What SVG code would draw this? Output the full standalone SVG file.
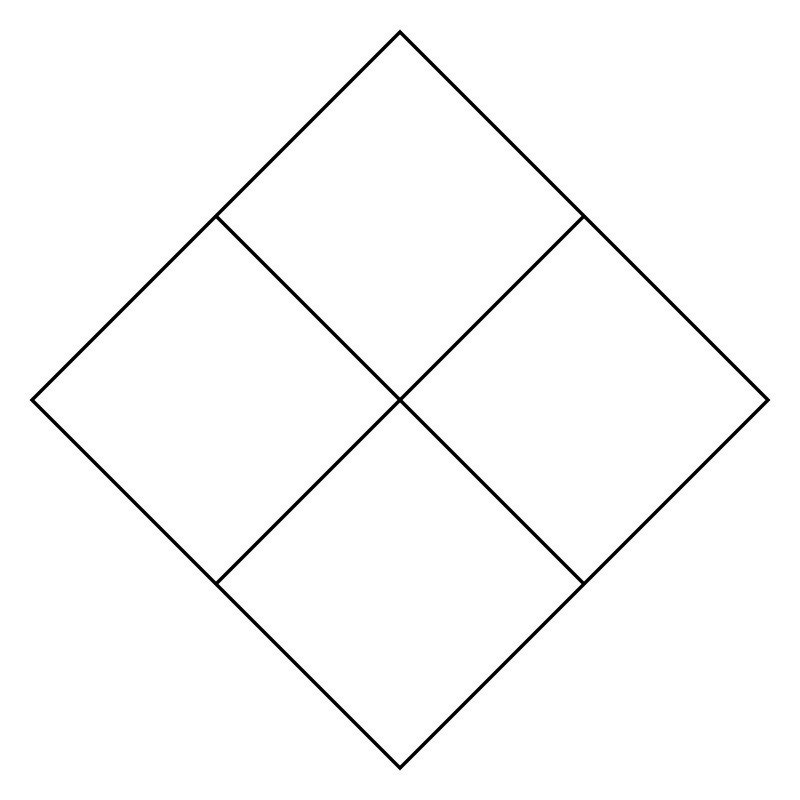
<svg xmlns="http://www.w3.org/2000/svg" width="800" height="800" viewBox="0 0 800 800">
<style>.s{fill:none;stroke:#000;stroke-width:3.5;stroke-linejoin:miter}</style>
<rect width="800" height="800" fill="#fff"/>
<g id="diamond">
<polygon class="s" points="400,32 768,400 400,768 32,400"/>
<line class="s" x1="216" y1="216" x2="584" y2="584"/>
<line class="s" x1="584" y1="216" x2="216" y2="584"/>
</g>
</svg>
